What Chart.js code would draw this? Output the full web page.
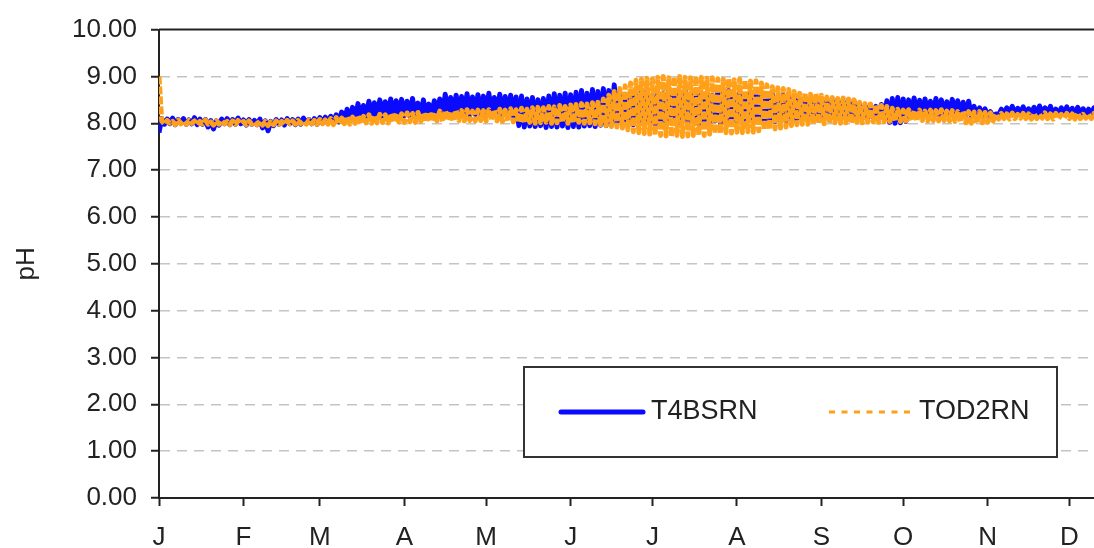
<!DOCTYPE html>
<html>
<head>
<meta charset="utf-8">
<title>pH T4BSRN / TOD2RN</title>
<script src="https://cdn.jsdelivr.net/npm/chart.js@4/dist/chart.umd.min.js"></script>
<style>
  html, body { margin: 0; padding: 0; background: #fff; overflow: hidden; }
  #wrap { width: 1156px; height: 548px; }
</style>
</head>
<body>
<div id="wrap"><canvas id="c" width="1156" height="548"></canvas></div>
<script>
// Month tick positions (day of year) and their labels
const monthStarts = [0, 31, 59, 90, 120, 151, 181, 212, 243, 273, 304, 334];
const monthLabels = ['J', 'F', 'M', 'A', 'M', 'J', 'J', 'A', 'S', 'O', 'N', 'D'];

// Series names
const seriesNames = ['T4BSRN', 'TOD2RN'];

// Daily pH readings (alternating daily high / low), day 0 = 1 January
const t4bsrn = [
  7.80, 8.10, 7.98, 8.09, 7.99, 8.11, 7.97, 8.08, 8.00, 8.10,
  7.98, 8.07, 7.99, 8.12, 7.97, 8.09, 7.98, 8.08, 7.92, 8.06,
  7.88, 8.05, 7.96, 8.09, 7.99, 8.10, 7.97, 8.08, 7.98, 8.11,
  7.99, 8.07, 7.96, 8.08, 7.98, 8.06, 7.97, 8.09, 7.90, 8.05,
  7.84, 8.04, 7.95, 8.08, 7.98, 8.07, 7.96, 8.10, 7.99, 8.08,
  7.97, 8.09, 7.98, 8.11, 8.00, 8.08, 7.99, 8.10, 7.98, 8.12,
  8.00, 8.13, 8.01, 8.15, 8.02, 8.18, 8.03, 8.24, 8.05, 8.30,
  8.06, 8.34, 8.08, 8.42, 8.10, 8.38, 8.12, 8.47, 8.11, 8.44,
  8.13, 8.50, 8.12, 8.46, 8.14, 8.52, 8.13, 8.48, 8.15, 8.51,
  8.16, 8.47, 8.15, 8.53, 8.17, 8.43, 8.16, 8.50, 8.18, 8.41,
  8.17, 8.48, 8.18, 8.52, 8.16, 8.62, 8.19, 8.55, 8.18, 8.60,
  8.17, 8.57, 8.20, 8.63, 8.18, 8.56, 8.19, 8.61, 8.17, 8.58,
  8.18, 8.64, 8.20, 8.55, 8.19, 8.62, 8.18, 8.57, 8.20, 8.60,
  8.15, 8.56, 7.95, 8.58, 7.92, 8.52, 7.94, 8.55, 7.93, 8.50,
  7.95, 8.53, 7.91, 8.58, 7.93, 8.63, 7.92, 8.60, 7.94, 8.64,
  7.91, 8.61, 7.93, 8.66, 7.92, 8.70, 7.94, 8.64, 7.95, 8.72,
  7.93, 8.68, 7.96, 8.74, 7.95, 8.70, 7.97, 8.82, 8.00, 8.66,
  7.98, 8.62, 8.02, 8.68, 7.97, 8.60, 8.04, 8.66, 7.99, 8.70,
  8.03, 8.58, 7.96, 8.67, 8.05, 8.63, 7.98, 8.69, 8.02, 8.60,
  7.97, 8.65, 8.04, 8.70, 7.99, 8.62, 8.06, 8.68, 7.98, 8.64,
  8.03, 8.66, 7.97, 8.60, 8.05, 8.68, 8.00, 8.63, 8.04, 8.70,
  7.98, 8.62, 8.05, 8.66, 8.01, 8.59, 8.06, 8.64, 8.02, 8.61,
  8.07, 8.63, 8.03, 8.58, 8.08, 8.62, 8.04, 8.57, 8.06, 8.60,
  8.05, 8.55, 8.08, 8.58, 8.06, 8.52, 8.09, 8.55, 8.07, 8.50,
  8.08, 8.54, 8.06, 8.49, 8.09, 8.52, 8.07, 8.48, 8.10, 8.51,
  8.08, 8.47, 8.09, 8.50, 8.08, 8.46, 8.10, 8.40, 8.11, 8.37,
  8.10, 8.39, 8.12, 8.36, 8.11, 8.40, 8.08, 8.48, 8.02, 8.53,
  8.00, 8.55, 8.01, 8.52, 8.04, 8.50, 8.15, 8.54, 8.17, 8.49,
  8.18, 8.52, 8.16, 8.47, 8.19, 8.53, 8.17, 8.50, 8.18, 8.46,
  8.17, 8.51, 8.19, 8.48, 8.18, 8.45, 8.17, 8.47, 8.16, 8.36,
  8.17, 8.33, 8.16, 8.31, 8.15, 8.25, 8.14, 8.20, 8.18, 8.30,
  8.19, 8.33, 8.20, 8.36, 8.19, 8.32, 8.21, 8.35, 8.20, 8.31,
  8.21, 8.34, 8.19, 8.37, 8.20, 8.33, 8.21, 8.36, 8.19, 8.30,
  8.20, 8.33, 8.21, 8.35, 8.20, 8.32, 8.19, 8.34, 8.21, 8.31,
  8.20, 8.30, 8.19, 8.33, 8.21, 8.30, 8.20, 8.32, 8.19, 8.29,
  8.20, 8.31, 8.21, 8.33, 8.20, 8.30, 8.19, 8.32, 8.20, 8.30,
  8.21, 8.31, 8.20, 8.32, 8.20
];

const tod2rn = [
  9.00, 8.05, 7.98, 8.06, 8.00, 8.04, 7.97, 8.07, 7.99, 8.05,
  7.98, 8.06, 8.00, 8.05, 7.97, 8.04, 7.99, 8.07, 7.98, 8.03,
  7.96, 8.05, 7.98, 8.06, 7.99, 8.04, 7.97, 8.05, 7.98, 8.06,
  7.99, 8.04, 7.97, 8.05, 7.98, 8.03, 7.97, 8.05, 7.96, 8.04,
  7.95, 8.03, 7.97, 8.05, 7.98, 8.04, 7.97, 8.06, 7.99, 8.05,
  7.98, 8.06, 7.99, 8.05, 7.98, 8.07, 7.99, 8.06, 7.98, 8.08,
  7.99, 8.07, 7.98, 8.10, 7.97, 8.12, 7.98, 8.11, 7.99, 8.14,
  7.98, 8.13, 8.00, 8.16, 7.99, 8.15, 8.01, 8.18, 8.00, 8.17,
  8.01, 8.19, 8.02, 8.18, 8.01, 8.20, 8.02, 8.21, 8.03, 8.20,
  8.02, 8.22, 8.03, 8.21, 8.02, 8.23, 8.04, 8.22, 8.03, 8.24,
  8.04, 8.23, 8.05, 8.26, 8.04, 8.27, 8.06, 8.25, 8.05, 8.28,
  8.06, 8.27, 8.05, 8.29, 8.06, 8.26, 8.05, 8.28, 8.06, 8.27,
  8.05, 8.29, 8.06, 8.28, 8.05, 8.30, 8.04, 8.28, 8.05, 8.31,
  8.03, 8.29, 8.02, 8.32, 8.01, 8.30, 8.02, 8.33, 8.00, 8.34,
  8.01, 8.33, 8.02, 8.36, 8.00, 8.35, 8.01, 8.38, 8.02, 8.36,
  8.00, 8.39, 8.01, 8.40, 8.02, 8.42, 8.00, 8.41, 8.01, 8.44,
  7.99, 8.45, 7.97, 8.52, 7.95, 8.60, 7.93, 8.68, 7.92, 8.74,
  7.90, 8.80, 7.86, 8.86, 7.82, 8.92, 7.80, 8.94, 7.78, 8.96,
  7.77, 8.95, 7.75, 8.98, 7.74, 9.00, 7.73, 8.97, 7.72, 8.99,
  7.74, 9.00, 7.72, 8.98, 7.73, 8.97, 7.74, 9.00, 7.75, 8.98,
  7.74, 8.96, 7.77, 8.97, 7.78, 8.95, 7.79, 8.94, 7.80, 8.95,
  7.79, 8.93, 7.81, 8.94, 7.80, 8.92, 7.82, 8.90, 7.81, 8.91,
  7.84, 8.86, 7.86, 8.82, 7.87, 8.78, 7.88, 8.76, 7.90, 8.74,
  7.92, 8.72, 7.95, 8.68, 7.97, 8.64, 7.98, 8.65, 7.98, 8.62,
  7.99, 8.63, 8.00, 8.60, 7.99, 8.56, 8.00, 8.55, 8.01, 8.53,
  8.00, 8.54, 8.01, 8.52, 8.00, 8.50, 8.02, 8.45, 8.01, 8.42,
  8.02, 8.41, 8.03, 8.40, 8.02, 8.38, 8.03, 8.36, 8.04, 8.32,
  8.05, 8.30, 8.04, 8.28, 8.05, 8.29, 8.06, 8.27, 8.05, 8.28,
  8.06, 8.26, 8.05, 8.28, 8.06, 8.27, 8.05, 8.29, 8.06, 8.26,
  8.05, 8.27, 8.04, 8.25, 8.03, 8.26, 8.01, 8.25, 8.00, 8.24,
  8.00, 8.25, 8.01, 8.23, 8.02, 8.22, 8.05, 8.20, 8.09, 8.21,
  8.10, 8.20, 8.09, 8.22, 8.10, 8.19, 8.11, 8.21, 8.10, 8.20,
  8.09, 8.21, 8.10, 8.19, 8.11, 8.22, 8.10, 8.20, 8.09, 8.21,
  8.10, 8.19, 8.11, 8.21, 8.10, 8.20, 8.09, 8.22, 8.10, 8.19,
  8.11, 8.20, 8.10, 8.21, 8.09, 8.19, 8.10, 8.20, 8.11, 8.21,
  8.10, 8.19, 8.09, 8.20, 8.10, 8.21, 8.11, 8.19, 8.10, 8.20,
  8.09, 8.21, 8.10, 8.19, 8.10
];

const BLUE = '#0a0aff';
const ORANGE = '#ffa01a';
const INK = '#222';
const TEXT = '#222';
const FONT = '"Liberation Sans", Arial, Helvetica, sans-serif';

const toPoints = arr => arr.map((v, i) => ({ x: i, y: v }));

// Top/right frame line plus the boxed legend inside the plot area
const frameAndLegend = {
  id: 'frameAndLegend',
  afterDraw(chart) {
    const { ctx, chartArea } = chart;
    ctx.save();
    ctx.strokeStyle = INK;
    ctx.lineWidth = 2;
    ctx.beginPath();
    ctx.moveTo(chartArea.left, chartArea.top);
    ctx.lineTo(chartArea.right, chartArea.top);
    ctx.lineTo(chartArea.right, chartArea.bottom);
    ctx.stroke();

    // legend box
    const bx = 524, by = 367, bw = 533, bh = 90;
    ctx.fillStyle = '#fff';
    ctx.fillRect(bx, by, bw, bh);
    ctx.lineWidth = 2;
    ctx.strokeStyle = '#333';
    ctx.strokeRect(bx, by, bw, bh);

    const cy = by + bh / 2;
    ctx.lineCap = 'round';
    ctx.strokeStyle = BLUE;
    ctx.lineWidth = 5;
    ctx.beginPath();
    ctx.moveTo(561, cy);
    ctx.lineTo(643, cy);
    ctx.stroke();

    ctx.lineCap = 'butt';
    ctx.strokeStyle = ORANGE;
    ctx.lineWidth = 3;
    ctx.setLineDash([6, 6.5]);
    ctx.beginPath();
    ctx.moveTo(829, cy);
    ctx.lineTo(912, cy);
    ctx.stroke();
    ctx.setLineDash([]);

    ctx.fillStyle = TEXT;
    ctx.font = '27px ' + FONT;
    ctx.textBaseline = 'middle';
    ctx.textAlign = 'left';
    ctx.fillText(seriesNames[0], 651, cy);
    ctx.fillText(seriesNames[1], 919, cy);
    ctx.restore();
  }
};

new Chart(document.getElementById('c'), {
  type: 'line',
  data: {
    datasets: [
      {
        label: seriesNames[1],
        data: toPoints(tod2rn),
        borderColor: ORANGE,
        borderWidth: 5,
        borderDash: [8, 2],
        borderJoinStyle: 'round',
        pointRadius: 0,
        tension: 0,
        order: 0
      },
      {
        label: seriesNames[0],
        data: toPoints(t4bsrn),
        borderColor: BLUE,
        borderWidth: 5,
        borderJoinStyle: 'round',
        pointRadius: 0,
        tension: 0,
        order: 1
      }
    ]
  },
  options: {
    responsive: false,
    animation: false,
    devicePixelRatio: 1,
    layout: { padding: { top: 25, right: 2, bottom: 0, left: 0 } },
    plugins: {
      legend: { display: false },
      tooltip: { enabled: false }
    },
    scales: {
      x: {
        type: 'linear',
        min: 0,
        max: 365,
        afterBuildTicks: scale => { scale.ticks = monthStarts.map(v => ({ value: v })); },
        afterFit: scale => { scale.height = 50; },
        ticks: {
          autoSkip: false,
          maxRotation: 0,
          padding: 16,
          color: TEXT,
          font: { family: FONT, size: 26 },
          callback: (v, i) => monthLabels[i]
        },
        grid: {
          drawOnChartArea: false,
          drawTicks: true,
          tickLength: 8,
          tickColor: INK,
          tickWidth: 2
        },
        border: { display: true, color: INK, width: 2 }
      },
      y: {
        min: 0,
        max: 10,
        afterFit: scale => { scale.width = 159; },
        ticks: {
          stepSize: 1,
          padding: 14,
          color: TEXT,
          font: { family: FONT, size: 26 },
          callback: v => Number(v).toFixed(2)
        },
        grid: {
          color: ctx => (ctx.tick && (ctx.tick.value === 0 || ctx.tick.value === 10)) ? 'rgba(0,0,0,0)' : '#c4c4c4',
          lineWidth: 1.5,
          tickLength: 8,
          tickColor: INK,
          tickWidth: 2,
          tickBorderDash: []
        },
        border: { display: true, color: INK, width: 2, dash: [10, 7] },
        title: {
          display: true,
          text: 'pH',
          color: TEXT,
          font: { family: FONT, size: 26 },
          padding: { top: 11, bottom: 4 }
        }
      }
    }
  },
  plugins: [frameAndLegend]
});
</script>
</body>
</html>
